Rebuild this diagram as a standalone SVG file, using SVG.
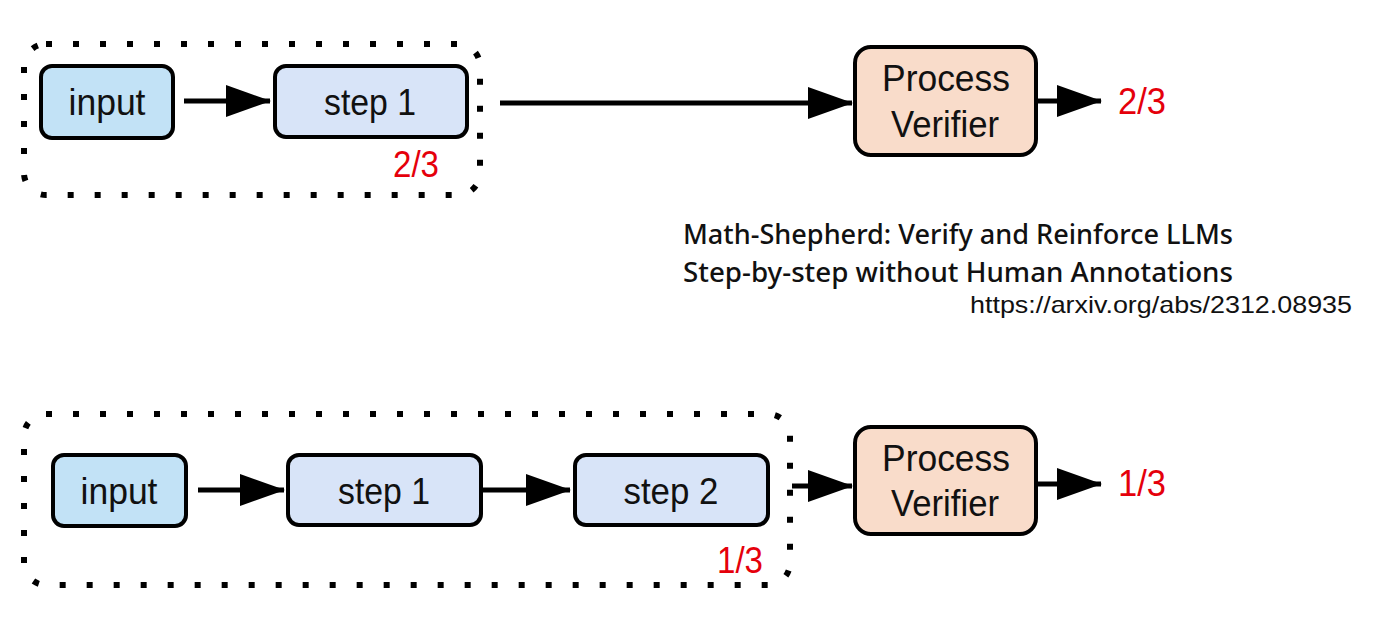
<svg xmlns="http://www.w3.org/2000/svg" width="1379" height="619" viewBox="0 0 1379 619">
<style>
.box{stroke:#000;stroke-width:4}
.in{fill:#c2e2f6}
.st{fill:#d8e4f8}
.pv{fill:#f9dcca}
.grp{fill:none;stroke:#000;stroke-width:6;stroke-dasharray:6 21}
.lbl{font-family:"Liberation Sans",Arial,sans-serif;font-size:36px;fill:#111;text-anchor:middle}
.red{font-family:"Liberation Sans",Arial,sans-serif;font-size:36px;fill:#e5000b}
.ttl{font-family:"Noto Sans","Open Sans",sans-serif;font-weight:500;font-size:26.5px;fill:#111}
.url{font-family:"Liberation Sans",Arial,sans-serif;font-size:24px;fill:#111}
.con{stroke:#000;stroke-width:5;fill:none;marker-end:url(#ah)}
</style>
<defs>
<marker id="ah" markerUnits="userSpaceOnUse" markerWidth="46" markerHeight="34" refX="44" refY="17" orient="auto">
<path d="M0,1 L45,17 L0,33 Z" fill="#000"/>
</marker>
</defs>
<rect width="1379" height="619" fill="#fff"/>

<g id="group-top"><rect class="grp" x="24" y="44" width="456" height="151" rx="22"/></g>
<g id="group-bottom"><rect class="grp" x="24" y="414" width="766" height="171" rx="22"/></g>

<g id="connectors">
<line class="con" x1="184" y1="101" x2="270" y2="101"/>
<line class="con" x1="500" y1="103" x2="852" y2="103"/>
<line class="con" x1="1036" y1="101" x2="1101" y2="101"/>
<line class="con" x1="198" y1="490" x2="284" y2="490"/>
<line class="con" x1="481" y1="490" x2="570" y2="490"/>
<line class="con" x1="792" y1="486" x2="852" y2="486"/>
<line class="con" x1="1036" y1="484" x2="1101" y2="484"/>
</g>

<g id="top-input"><rect class="box in" x="41" y="66" width="132" height="72" rx="11"/><text class="lbl" x="107" y="115" textLength="77" lengthAdjust="spacingAndGlyphs">input</text></g>
<g id="top-step1"><rect class="box st" x="275" y="66" width="192" height="71" rx="11"/><text class="lbl" x="370" y="115" textLength="92" lengthAdjust="spacingAndGlyphs">step 1</text></g>
<g id="top-verifier"><rect class="box pv" x="855" y="47" width="181" height="108" rx="16"/><text class="lbl" x="946" y="91" textLength="128" lengthAdjust="spacingAndGlyphs">Process</text><text class="lbl" x="945" y="137" textLength="108" lengthAdjust="spacingAndGlyphs">Verifier</text></g>
<g id="top-score"><text class="red" x="393" y="177" textLength="46" lengthAdjust="spacingAndGlyphs">2/3</text><text class="red" x="1118" y="114" textLength="48" lengthAdjust="spacingAndGlyphs">2/3</text></g>

<g id="bot-input"><rect class="box in" x="53" y="455" width="133" height="71" rx="11"/><text class="lbl" x="119" y="504" textLength="77" lengthAdjust="spacingAndGlyphs">input</text></g>
<g id="bot-step1"><rect class="box st" x="288" y="455" width="193" height="70" rx="11"/><text class="lbl" x="384" y="504" textLength="92" lengthAdjust="spacingAndGlyphs">step 1</text></g>
<g id="bot-step2"><rect class="box st" x="575" y="455" width="193" height="70" rx="11"/><text class="lbl" x="671" y="504" textLength="95" lengthAdjust="spacingAndGlyphs">step 2</text></g>
<g id="bot-verifier"><rect class="box pv" x="855" y="427" width="181" height="107" rx="16"/><text class="lbl" x="946" y="471" textLength="128" lengthAdjust="spacingAndGlyphs">Process</text><text class="lbl" x="945" y="516" textLength="108" lengthAdjust="spacingAndGlyphs">Verifier</text></g>
<g id="bot-score"><text class="red" x="717" y="573" textLength="46" lengthAdjust="spacingAndGlyphs">1/3</text><text class="red" x="1118" y="496" textLength="48" lengthAdjust="spacingAndGlyphs">1/3</text></g>

<g id="caption">
<text class="ttl" x="683" y="244" textLength="550" lengthAdjust="spacingAndGlyphs">Math-Shepherd: Verify and Reinforce LLMs</text>
<text class="ttl" x="683" y="282" textLength="550" lengthAdjust="spacingAndGlyphs">Step-by-step without Human Annotations</text>
<text class="url" x="970" y="313" textLength="382" lengthAdjust="spacingAndGlyphs">https://arxiv.org/abs/2312.08935</text>
</g>
</svg>
